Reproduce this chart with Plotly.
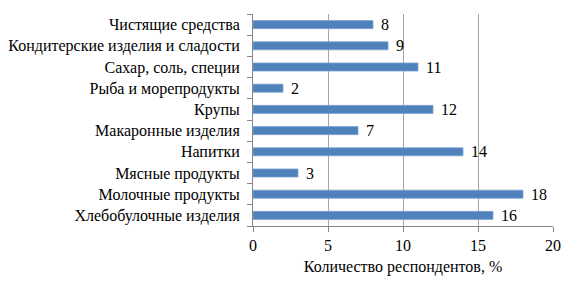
import plotly.graph_objects as go

categories = ["Хлебобулочные изделия", "Молочные продукты", "Мясные продукты", "Напитки",
              "Макаронные изделия", "Крупы", "Рыба и морепродукты", "Сахар, соль, специи",
              "Кондитерские изделия и сладости", "Чистящие средства"]
values = [16, 18, 3, 14, 7, 12, 2, 11, 9, 8]
x_ticks = [0, 5, 10, 15, 20]
x_title = "Количество респондентов, %"

FONT = "Liberation Serif"
FS = 16

fig = go.Figure()
fig.add_trace(go.Bar(
    x=values, y=categories, orientation="h",
    marker=dict(color="#4F81BD", line=dict(color="#7FA3D1", width=0.8)),
    width=0.38, hoverinfo="x+y",
))
for v, c in zip(values, categories):
    fig.add_annotation(x=v, y=c, text=str(v), xanchor="left", yanchor="middle",
                       xshift=6, showarrow=False,
                       font=dict(family=FONT, size=FS, color="#000000"))

fig.update_layout(
    width=560, height=276,
    margin=dict(l=245, r=15, t=6, b=58),
    paper_bgcolor="white", plot_bgcolor="white",
    font=dict(family=FONT, size=FS, color="#000000"),
    showlegend=False,
)
fig.update_xaxes(
    range=[0, 20], tickvals=x_ticks, showgrid=True, gridcolor="#A6A6A6", gridwidth=1,
    showline=True, linecolor="#868686", linewidth=1, ticks="outside", ticklen=5,
    tickcolor="#868686", zeroline=False, automargin=False,
    title=dict(text=x_title, standoff=7, font=dict(family=FONT, size=FS)),
    tickfont=dict(family=FONT, size=FS),
)
fig.update_yaxes(
    showline=True, linecolor="#868686", linewidth=1, ticks="outside", ticklen=5,
    tickcolor="#868686", tickson="boundaries", showgrid=False, automargin=False,
    tickfont=dict(family=FONT, size=FS), ticklabelstandoff=9,
)

fig.write_html("out.html")
